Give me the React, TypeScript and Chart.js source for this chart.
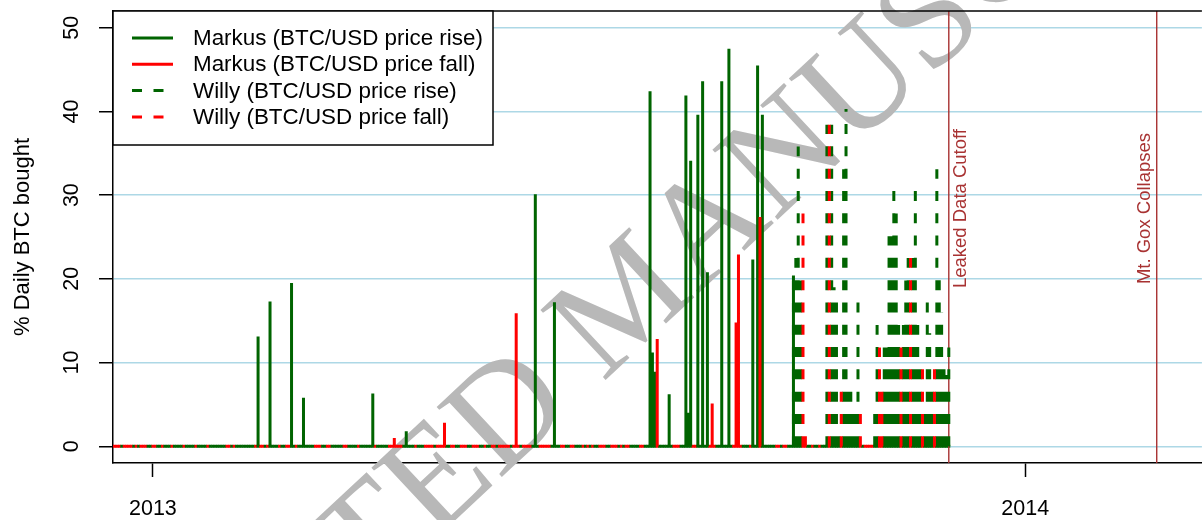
import React, { useEffect, useRef } from 'react';
import { Chart, registerables } from 'chart.js';

Chart.register(...registerables);

const FONT = '"Liberation Sans", Arial, Helvetica, sans-serif';
const GREEN = '#006400';
const RED = '#FF0000';
const EVENT_COLOR = '#A83232';

// day numbers counted from 2013-01-01 (= day 0)
const xTickDays = [0, 365];
const xTickLabels = ['2013', '2014'];
const yTicks = [0, 10, 20, 30, 40, 50];

// range of days that carry a (possibly zero) value
const firstDay = -17;
const lastDay = 333;

// days on which the BTC/USD price fell (all other days: price rise)
const fallDays = [
  -17, -16, -15, -14, -12, -11, -10, -9, -7, -5, -4, -3, 0, 1, 4, 8, 13, 18, 23, 31, 32, 34,
  43, 45, 46, 48, 53, 56, 57, 60, 68, 69, 70, 73, 74, 80, 81, 86, 93, 99, 100, 101, 102, 103,
  104, 110, 114, 115, 116, 117, 119, 120, 121, 122, 125, 126, 129, 130, 131, 134, 135, 136,
  139, 142, 143, 145, 146, 147, 148, 149, 151, 152, 153, 155, 156, 157, 158, 162, 163, 164,
  165, 166, 171, 172, 175, 176, 180, 182, 184, 187, 188, 189, 192, 193, 194, 196, 198, 199,
  204, 205, 211, 218, 219, 220, 226, 227, 233, 234, 235, 243, 244, 245, 246, 250, 254, 261,
  262, 264, 265, 272, 273, 276, 279, 283, 288, 296, 298, 299, 300, 301, 304, 305, 313, 317,
  322, 327,
];

// Markus: % of daily BTC bought
const markusDays = [
  44, 49, 58, 63, 92, 101, 106, 122, 152, 160, 168, 208, 209, 210, 211, 216, 223, 224, 225,
  228, 230, 232, 234, 238, 241, 244, 245, 251, 253, 254, 255, 268,
];
const markusValues = [
  13.1, 17.3, 19.5, 5.8, 6.3, 1.0, 1.8, 2.8, 15.9, 30.1, 17.2, 42.4, 11.2, 8.9, 12.8, 6.2,
  41.9, 4.0, 34.1, 39.6, 43.6, 20.8, 5.1, 43.6, 47.5, 14.8, 22.9, 22.3, 45.5, 27.4, 39.6, 20.4,
];

// Willy: % of daily BTC bought
const willyDays = [
  268, 269, 270, 271, 272, 273,
  282, 283, 284, 285, 286, 287, 288, 289, 290, 291, 292, 293, 294, 295, 296,
  302, 303, 304, 305, 306, 307, 308, 309, 310, 311, 312, 313, 314, 315, 316, 317, 318, 319,
  320, 321, 322, 323, 324, 325, 326, 327, 328, 329, 330, 331, 332, 333,
];
const willyValues = [
  19.8, 22.5, 35.8, 19.8, 27.8, 1.2,
  38.4, 38.4, 38.4, 19.0, 17.2, 1.2, 6.5, 33.1, 40.3, 6.5, 6.5, 3.9, 3.9, 17.2, 3.9,
  3.9, 14.5, 11.8, 6.5, 11.8, 11.8, 25.1, 25.1, 30.5, 27.8, 14.5, 11.8, 14.5, 19.8, 22.5,
  22.5, 22.5, 30.5, 14.5, 9.2, 9.2, 3.9, 18.5, 13.5, 6.5, 9.2, 33.1, 20.0, 16.0, 9.2, 8.5, 11.8,
];

const eventDays = [333, 420];
const eventLabels = ['Leaked Data Cutoff', 'Mt. Gox Collapses'];
const eventLabelSide = [1, -1];
const eventLabelY = 28.4;

const seriesLabels = [
  'Markus (BTC/USD price rise)',
  'Markus (BTC/USD price fall)',
  'Willy (BTC/USD price rise)',
  'Willy (BTC/USD price fall)',
];

const X_MIN = -16.7;
const X_MAX = 438.9;
const Y_MIN = -2;
const Y_MAX = 52;
const DASH = [10, 12.3];

const fallSet = new Set(fallDays);

function spikes(days: number[], values: number[], fall: boolean) {
  const pts: { x: number; y: number | null }[] = [];
  days.forEach((d, i) => {
    if (fallSet.has(d) === fall && values[i] > 0) {
      pts.push({ x: d, y: 0 }, { x: d, y: values[i] }, { x: d, y: null });
    }
  });
  return pts;
}

function spikeDataset(label: string, data: any[], color: string, dash: number[]) {
  return {
    type: 'line',
    label,
    data,
    borderColor: color,
    backgroundColor: color,
    borderWidth: 3,
    borderDash: dash,
    borderCapStyle: 'butt',
    pointRadius: 0,
    pointHoverRadius: 0,
    spanGaps: false,
    tension: 0,
    fill: false,
  };
}

const baselineDays: number[] = [];
for (let d = firstDay; d <= lastDay; d++) baselineDays.push(d);

const watermarkPlugin = {
  id: 'watermark',
  beforeDatasetsDraw(chart: any) {
    const ctx = chart.ctx;
    ctx.save();
    ctx.font = '146px "Liberation Serif", "DejaVu Serif", serif';
    ctx.fillStyle = '#b8b8b8';
    ctx.textBaseline = 'middle';
    ctx.textAlign = 'left';
    const text = 'ACCEPTED MANUSCRIPT';
    const ang = (-43 * Math.PI) / 180;
    const prefix = ctx.measureText('ACCEPT').width + ctx.measureText('E').width / 2;
    const cx = 440 - prefix * Math.cos(ang);
    const cy = 482 - prefix * Math.sin(ang);
    ctx.translate(cx, cy);
    ctx.rotate(ang);
    ctx.fillText(text, 0, 0);
    ctx.restore();
  },
};

const eventPlugin = {
  id: 'eventLabels',
  afterDatasetsDraw(chart: any) {
    const { ctx } = chart;
    const xs = chart.scales.x;
    const ys = chart.scales.y;
    ctx.save();
    ctx.font = `18.5px ${FONT}`;
    ctx.fillStyle = EVENT_COLOR;
    ctx.textAlign = 'center';
    ctx.textBaseline = 'middle';
    eventDays.forEach((d, i) => {
      const px = xs.getPixelForValue(d) + eventLabelSide[i] * 12;
      const py = ys.getPixelForValue(eventLabelY);
      ctx.save();
      ctx.translate(px, py);
      ctx.rotate(-Math.PI / 2);
      ctx.fillText(eventLabels[i], 0, 0);
      ctx.restore();
    });
    ctx.restore();
  },
};

const boxLegendPlugin = {
  id: 'boxLegend',
  afterDraw(chart: any) {
    const { ctx, chartArea } = chart;
    ctx.save();
    // top frame line
    ctx.strokeStyle = '#000';
    ctx.lineWidth = 1.5;
    ctx.beginPath();
    ctx.moveTo(chartArea.left, chartArea.top);
    ctx.lineTo(chartArea.right, chartArea.top);
    ctx.stroke();

    // legend box
    const x0 = chartArea.left;
    const y0 = chartArea.top;
    const w = 380;
    const h = 134;
    ctx.fillStyle = '#fff';
    ctx.fillRect(x0, y0, w, h);
    ctx.strokeRect(x0, y0, w, h);
    const styles: [string, number[]][] = [
      [GREEN, []],
      [RED, []],
      [GREEN, [10, 11.5]],
      [RED, [10, 11.5]],
    ];
    ctx.font = `22.4px ${FONT}`;
    ctx.textBaseline = 'middle';
    ctx.textAlign = 'left';
    seriesLabels.forEach((lab, i) => {
      const y = y0 + 27 + i * 26.3;
      ctx.strokeStyle = styles[i][0];
      ctx.lineWidth = 3;
      ctx.setLineDash(styles[i][1]);
      ctx.beginPath();
      ctx.moveTo(x0 + 19, y);
      ctx.lineTo(x0 + 60, y);
      ctx.stroke();
      ctx.setLineDash([]);
      ctx.fillStyle = '#000';
      ctx.fillText(lab, x0 + 80, y + 1);
    });
    ctx.restore();
  },
};

export default function App() {
  const ref = useRef<HTMLCanvasElement>(null);

  useEffect(() => {
    const canvas = ref.current;
    if (!canvas) return;

    const eventData: any[] = [];
    eventDays.forEach((d) => {
      eventData.push({ x: d, y: Y_MIN }, { x: d, y: Y_MAX }, { x: d, y: null });
    });

    const datasets: any[] = [
      spikeDataset(seriesLabels[3], spikes(willyDays, willyValues, true), RED, DASH),
      spikeDataset(seriesLabels[2], spikes(willyDays, willyValues, false), GREEN, DASH),
      spikeDataset(seriesLabels[1], spikes(markusDays, markusValues, true), RED, []),
      spikeDataset(seriesLabels[0], spikes(markusDays, markusValues, false), GREEN, []),
      {
        type: 'line',
        label: 'events',
        data: eventData,
        borderColor: EVENT_COLOR,
        borderWidth: 1.4,
        pointRadius: 0,
        spanGaps: false,
        fill: false,
      },
      {
        type: 'line',
        label: 'baseline',
        data: baselineDays.map((d) => ({ x: d, y: 0 })),
        showLine: false,
        pointStyle: 'rect',
        pointRadius: 2.1,
        pointBorderWidth: 0,
        pointHoverRadius: 0,
        pointBackgroundColor: baselineDays.map((d) => (fallSet.has(d) ? RED : GREEN)),
        pointBorderColor: 'rgba(0,0,0,0)',
      },
    ];

    const chart = new Chart(canvas, {
      type: 'line',
      data: { datasets },
      options: {
        responsive: false,
        animation: false,
        devicePixelRatio: 1,
        events: [],
        layout: { padding: { top: 11, left: 0, right: 0, bottom: 0 } },
        plugins: {
          legend: { display: false },
          tooltip: { enabled: false },
        },
        scales: {
          x: {
            type: 'linear',
            min: X_MIN,
            max: X_MAX,
            afterBuildTicks: (s: any) => {
              s.ticks = xTickDays.map((v) => ({ value: v }));
            },
            afterFit: (s: any) => {
              s.height = 57;
              s.paddingLeft = 0;
              s.paddingRight = 0;
            },
            grid: {
              drawOnChartArea: false,
              tickColor: '#000',
              tickWidth: 1.5,
              tickLength: 14,
            },
            border: { display: true, color: '#000', width: 1.5 },
            ticks: {
              color: '#000',
              font: { family: FONT, size: 21.5 },
              maxRotation: 0,
              minRotation: 0,
              autoSkip: false,
              padding: 19,
              callback: (v: any) => {
                const i = xTickDays.indexOf(Number(v));
                return i >= 0 ? xTickLabels[i] : '';
              },
            },
          },
          y: {
            type: 'linear',
            min: Y_MIN,
            max: Y_MAX,
            afterBuildTicks: (s: any) => {
              s.ticks = yTicks.map((v) => ({ value: v }));
            },
            afterFit: (s: any) => {
              s.width = 113;
              s.paddingTop = 0;
              s.paddingBottom = 0;
            },
            grid: {
              color: '#ADD8E6',
              lineWidth: 1.5,
              tickColor: '#000',
              tickWidth: 1.5,
              tickLength: 14,
            },
            border: { display: true, color: '#000', width: 1.5 },
            ticks: {
              color: '#000',
              font: { family: FONT, size: 21.5 },
              minRotation: 90,
              maxRotation: 90,
              crossAlign: 'center',
              autoSkip: false,
              padding: 15,
              callback: (v: any) => String(v),
            },
            title: {
              display: true,
              text: '% Daily BTC bought',
              color: '#000',
              font: { family: FONT, size: 22 },
              padding: { top: 10, bottom: 0 },
            },
          },
        },
      } as any,
      plugins: [watermarkPlugin, eventPlugin, boxLegendPlugin],
    } as any);

    return () => chart.destroy();
  }, []);

  return (
    <div style={{ position: 'fixed', left: 0, top: 0, width: 1204, height: 520, background: '#fff' }}>
      <canvas ref={ref} width={1204} height={520} style={{ display: 'block', width: 1204, height: 520 }} />
    </div>
  );
}
